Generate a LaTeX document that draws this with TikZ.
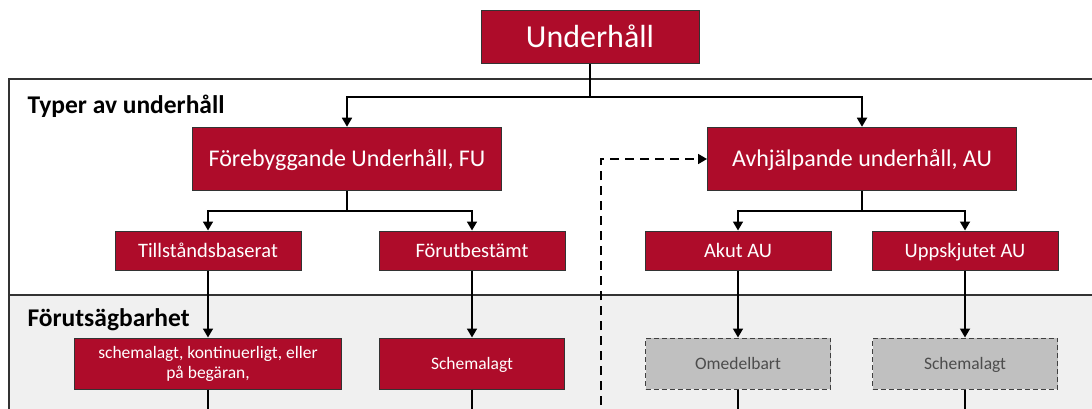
\documentclass[tikz,border=0pt]{standalone}
\usepackage{fontspec}
\setmainfont{Carlito}
\usetikzlibrary{arrows.meta,positioning}
\definecolor{umred}{RGB}{174,12,42}
\definecolor{umgray}{RGB}{192,192,192}
\definecolor{umbg}{RGB}{240,240,240}

\begin{document}
\begin{tikzpicture}[x=1pt, y=-1pt,
  box/.style={draw=black!80, fill=umred, text=white, line width=1pt, inner sep=0pt, align=center, text depth=0pt},
  top/.style={box, text height=20.6pt, minimum width=218pt, minimum height=53pt, font=\fontsize{32}{34}\selectfont},
  typ/.style={box, text height=15.5pt, minimum width=309pt, minimum height=63.5pt, font=\fontsize{24}{28}\selectfont},
  sub/.style={box, text height=13.2pt, minimum width=186pt, minimum height=39pt, font=\fontsize{20.5}{24}\selectfont},
  pred/.style={box, text height=11.3pt, minimum width=185pt, minimum height=51pt, font=\fontsize{17.5}{20}\selectfont},
  open/.style={pred, draw=black!75, dash pattern=on 5pt off 3pt, fill=umgray, text=black!70},
  arr/.style={-{Triangle[length=9pt,width=10pt]}, line width=1.7pt},
  sec/.style={font=\bfseries\fontsize{25.5}{30}\selectfont, anchor=west},
]
\useasboundingbox (0,0) rectangle (1092,409);
\clip (0,0) rectangle (1092,409);

% sections
\fill[umbg] (9,295) rectangle (1100,420);
\draw[line width=1.2pt, black!80] (1100,79) -- (9,79) -- (9,420);
\draw[line width=1.2pt, black!80] (9,295) -- (1100,295);
\node[sec] (typer) at (24,106) {Typer av underhåll};
\node[sec] (forut) at (24,320) {Förutsägbarhet};

% types
\node[top] (uh) at (590,37.5) {Underhåll};
\node[typ] (fu) at (347,159) {Förebyggande Underhåll, FU};
\node[typ] (au) at (862,159) {Avhjälpande underhåll, AU};
\node[sub] (tb) at (208,250.5) {Tillståndsbaserat};
\node[sub] (fb) at (472,250.5) {Förutbestämt};
\node[sub] (ak) at (738,250.5) {Akut AU};
\node[sub] (up) at (965,250.5) {Uppskjutet AU};

% predictability
\node[pred, text height=, text depth=, minimum width=267pt] (s1) at (208,363.5) {schemalagt, kontinuerligt, eller\\på begäran,};
\node[pred] (s2) at (472,363.5) {Schemalagt};
\node[open] (om) at (738,363.5) {Omedelbart};
\node[open] (s3) at (965,363.5) {Schemalagt};

\draw[arr] (uh.south) -- ++(0,32.5) -| (fu.north);
\draw[arr] (uh.south) -- ++(0,32.5) -| (au.north);
\draw[arr] (fu.south) -- ++(0,19.7) -| (tb.north);
\draw[arr] (fu.south) -- ++(0,19.7) -| (fb.north);
\draw[arr] (au.south) -- ++(0,19.7) -| (ak.north);
\draw[arr] (au.south) -- ++(0,19.7) -| (up.north);
\draw[arr] (tb) -- (s1);
\draw[arr] (fb) -- (s2);
\draw[arr] (ak) -- (om);
\draw[arr] (up) -- (s3);

% continuing below
\coordinate (bot) at (0,420);
\coordinate (dsh) at (601,420);
\foreach \n in {s1,s2,om,s3}
  \draw[line width=1.7pt] (\n.south) -- (\n.south |- bot);
\draw[arr, dash pattern=on 9pt off 6pt] (dsh) |- (au.west);
\end{tikzpicture}
\end{document}
